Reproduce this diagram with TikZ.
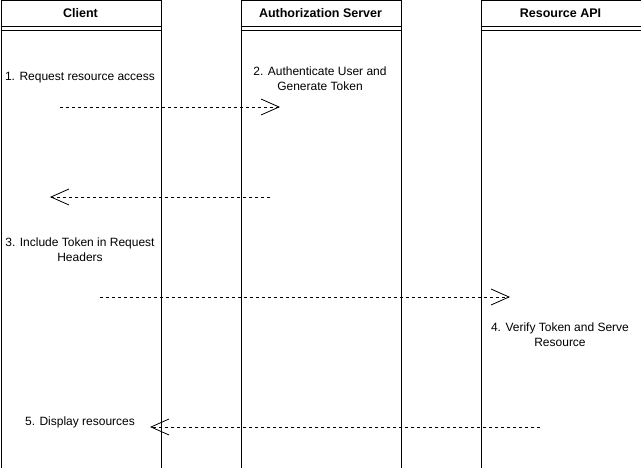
\documentclass[tikz,border=0pt]{standalone}
\usepackage{fontspec}
\setmainfont{Liberation Sans}
\usetikzlibrary{arrows.meta, positioning}

\tikzset{
  lane/.style={draw, line width=1pt, minimum width=160pt, minimum height=467pt, anchor=north west, inner sep=0pt},
  lanehead/.style={font=\fontsize{12.5pt}{14pt}\selectfont\bfseries},
  steptext/.style={font=\fontsize{12pt}{15pt}\selectfont, align=center, inner sep=0pt},
  msg/.style={line width=0.8pt, dash pattern=on 3pt off 3pt, -{Straight Barb[length=18pt, width=16pt]}}
}

\begin{document}
\begin{tikzpicture}[x=1pt, y=-1pt]
  \useasboundingbox (0,0) rectangle (641,468);

  % Lanes
  \node[lane] (client) at (0.5,0.5) {};
  \node[lane] (auth) at (240.5,0.5) {};
  \node[lane] (api) at (480.5,0.5) {};

  % Headers
  \foreach \ln in {client, auth, api} {
    \draw[line width=1pt] ([yshift=-26pt]\ln.north west) -- ([yshift=-26pt]\ln.north east);
    \draw[line width=1pt] ([yshift=-30pt]\ln.north west) -- ([yshift=-30pt]\ln.north east);
  }
  \node[lanehead] (clienthead) at (80.5,13) {Client};
  \node[lanehead] (authhead) at (320.5,13) {Authorization Server};
  \node[lanehead] (apihead) at (560.5,13) {Resource API};

  % Steps
  \node[steptext] (req) at (80,78) {1. Request resource access};
  \node[steptext] (authn) at (320,79) {2. Authenticate User and\\Generate Token};
  \node[steptext] (incl) at (80,250) {3. Include Token in Request\\Headers};
  \node[steptext] (verify) at (560,335) {4. Verify Token and Serve\\Resource};
  \node[steptext] (show) at (80,422) {5. Display resources};

  % Messages
  \coordinate (reqfrom) at (60,107);
  \coordinate (reqto) at (280,107);
  \coordinate (tokfrom) at (270,197);
  \coordinate (tokto) at (50,197);
  \coordinate (callfrom) at (100,297);
  \coordinate (callto) at (510,297);
  \coordinate (resfrom) at (540,427);
  \coordinate (resto) at (150,427);

  \draw[msg] (reqfrom) -- (reqto);
  \draw[msg] (tokfrom) -- (tokto);
  \draw[msg] (callfrom) -- (callto);
  \draw[msg] (resfrom) -- (resto);
\end{tikzpicture}
\end{document}
